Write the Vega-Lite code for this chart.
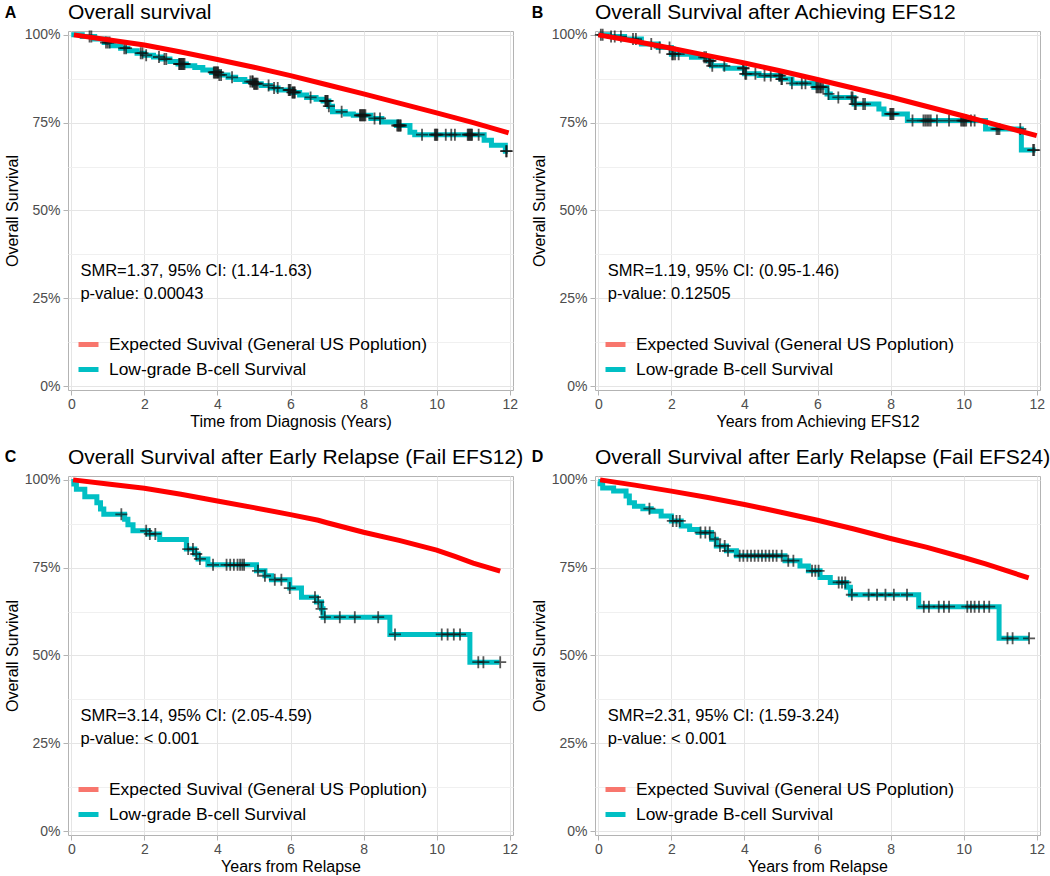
{
  "$schema": "https://vega.github.io/schema/vega-lite/v6.json",
  "padding": {"left": 3, "top": 1, "right": 0, "bottom": 0},
  "autosize": {"type": "pad"},
  "background": "white",
  "config": {
    "font": "Liberation Sans",
    "view": {"stroke": "#b3b3b3", "strokeWidth": 1},
    "axis": {
      "domain": false,
      "tickColor": "#b3b3b3",
      "tickSize": 5,
      "tickWidth": 1,
      "labelColor": "#4d4d4d",
      "labelFontSize": 14,
      "labelFont": "Liberation Sans",
      "labelFlush": false,
      "labelOverlap": false,
      "titleFontSize": 16,
      "titleFontWeight": "normal",
      "titleColor": "black",
      "titleFont": "Liberation Sans",
      "gridWidth": 1
    },
    "axisX": {"labelPadding": 2, "titlePadding": 2},
    "axisY": {"labelPadding": 3, "titlePadding": 4},
    "legend": {
      "orient": "bottom-left",
      "offset": 10,
      "padding": 0,
      "symbolType": "stroke",
      "symbolSize": 400,
      "symbolStrokeWidth": 5,
      "symbolOffset": -2,
      "labelFontSize": 17.4,
      "labelColor": "black",
      "labelFont": "Liberation Sans",
      "labelOffset": 8,
      "rowPadding": 2,
      "labelLimit": 500
    }
  },
  "datasets": {
    "notes": [
      {"panel": "A", "letter": "A", "title": "Overall survival", "line1": "SMR=1.37, 95% CI: (1.14-1.63)", "line2": "p-value: 0.00043"},
      {"panel": "B", "letter": "B", "title": "Overall Survival after Achieving EFS12", "line1": "SMR=1.19, 95% CI: (0.95-1.46)", "line2": "p-value: 0.12505"},
      {"panel": "C", "letter": "C", "title": "Overall Survival after Early Relapse (Fail EFS12)", "line1": "SMR=3.14, 95% CI: (2.05-4.59)", "line2": "p-value: < 0.001"},
      {"panel": "D", "letter": "D", "title": "Overall Survival after Early Relapse (Fail EFS24)", "line1": "SMR=2.31, 95% CI: (1.59-3.24)", "line2": "p-value: < 0.001"}
    ],
    "kmA": [
      {"t": 0, "s": 1.0}, {"t": 0.3, "s": 0.995}, {"t": 0.64, "s": 0.988}, {"t": 0.9, "s": 0.978}, {"t": 1.1, "s": 0.969},
      {"t": 1.35, "s": 0.962}, {"t": 1.55, "s": 0.955}, {"t": 1.8, "s": 0.948}, {"t": 2.0, "s": 0.942}, {"t": 2.25, "s": 0.937},
      {"t": 2.47, "s": 0.931}, {"t": 2.7, "s": 0.924}, {"t": 2.92, "s": 0.917}, {"t": 3.15, "s": 0.912}, {"t": 3.38, "s": 0.907},
      {"t": 3.6, "s": 0.9}, {"t": 3.84, "s": 0.893}, {"t": 4.05, "s": 0.886}, {"t": 4.29, "s": 0.879}, {"t": 4.5, "s": 0.873},
      {"t": 4.75, "s": 0.867}, {"t": 5.0, "s": 0.861}, {"t": 5.2, "s": 0.856}, {"t": 5.45, "s": 0.849}, {"t": 5.66, "s": 0.843},
      {"t": 6.03, "s": 0.836}, {"t": 6.25, "s": 0.829}, {"t": 6.44, "s": 0.822}, {"t": 6.7, "s": 0.817}, {"t": 6.89, "s": 0.812},
      {"t": 7.05, "s": 0.797}, {"t": 7.15, "s": 0.781}, {"t": 7.5, "s": 0.775}, {"t": 7.72, "s": 0.771}, {"t": 8.2, "s": 0.762},
      {"t": 8.5, "s": 0.752}, {"t": 8.9, "s": 0.742}, {"t": 9.27, "s": 0.723}, {"t": 9.4, "s": 0.716}, {"t": 11.3, "s": 0.7},
      {"t": 11.5, "s": 0.686}, {"t": 11.88, "s": 0.669}, {"t": 11.95, "s": 0.669}
    ],
    "cenA": [
      {"t": 0.5, "s": 0.995}, {"t": 0.55, "s": 0.995}, {"t": 0.95, "s": 0.978}, {"t": 1.0, "s": 0.978}, {"t": 1.05, "s": 0.978},
      {"t": 1.45, "s": 0.962}, {"t": 1.5, "s": 0.962}, {"t": 1.9, "s": 0.948}, {"t": 1.95, "s": 0.948}, {"t": 2.05, "s": 0.942},
      {"t": 2.4, "s": 0.937}, {"t": 2.55, "s": 0.931}, {"t": 2.6, "s": 0.931}, {"t": 2.95, "s": 0.917}, {"t": 2.97, "s": 0.917},
      {"t": 3.0, "s": 0.917}, {"t": 3.02, "s": 0.917}, {"t": 3.05, "s": 0.917}, {"t": 3.07, "s": 0.917}, {"t": 3.1, "s": 0.917},
      {"t": 3.9, "s": 0.893}, {"t": 3.92, "s": 0.893}, {"t": 3.95, "s": 0.893}, {"t": 3.97, "s": 0.893}, {"t": 4.0, "s": 0.893},
      {"t": 4.02, "s": 0.893}, {"t": 4.05, "s": 0.886}, {"t": 4.1, "s": 0.886}, {"t": 4.4, "s": 0.879}, {"t": 4.9, "s": 0.867},
      {"t": 4.95, "s": 0.867}, {"t": 4.97, "s": 0.867}, {"t": 5.0, "s": 0.861}, {"t": 5.02, "s": 0.861}, {"t": 5.05, "s": 0.861},
      {"t": 5.07, "s": 0.861}, {"t": 5.1, "s": 0.861}, {"t": 5.4, "s": 0.856}, {"t": 5.55, "s": 0.849}, {"t": 5.65, "s": 0.849},
      {"t": 5.95, "s": 0.843}, {"t": 5.97, "s": 0.843}, {"t": 6.0, "s": 0.843}, {"t": 6.05, "s": 0.836}, {"t": 6.07, "s": 0.836},
      {"t": 6.1, "s": 0.836}, {"t": 6.12, "s": 0.836}, {"t": 6.55, "s": 0.822}, {"t": 6.95, "s": 0.812}, {"t": 6.97, "s": 0.812},
      {"t": 7.0, "s": 0.812}, {"t": 7.02, "s": 0.812}, {"t": 7.05, "s": 0.797}, {"t": 7.4, "s": 0.781}, {"t": 7.9, "s": 0.771},
      {"t": 7.92, "s": 0.771}, {"t": 7.95, "s": 0.771}, {"t": 7.97, "s": 0.771}, {"t": 8.0, "s": 0.771}, {"t": 8.02, "s": 0.771},
      {"t": 8.05, "s": 0.771}, {"t": 8.3, "s": 0.762}, {"t": 8.45, "s": 0.762}, {"t": 8.92, "s": 0.742}, {"t": 8.95, "s": 0.742},
      {"t": 8.97, "s": 0.742}, {"t": 9.0, "s": 0.742}, {"t": 9.02, "s": 0.742}, {"t": 9.6, "s": 0.716}, {"t": 9.95, "s": 0.716},
      {"t": 9.97, "s": 0.716}, {"t": 10.0, "s": 0.716}, {"t": 10.02, "s": 0.716}, {"t": 10.25, "s": 0.716}, {"t": 10.4, "s": 0.716},
      {"t": 10.5, "s": 0.716}, {"t": 10.85, "s": 0.716}, {"t": 10.87, "s": 0.716}, {"t": 10.9, "s": 0.716}, {"t": 10.92, "s": 0.716},
      {"t": 10.95, "s": 0.716}, {"t": 10.97, "s": 0.716}, {"t": 11.15, "s": 0.716}, {"t": 11.9, "s": 0.669}, {"t": 11.92, "s": 0.669}
    ],
    "expA": [
      {"t": 0.07, "s": 1.0}, {"t": 1, "s": 0.986}, {"t": 2, "s": 0.971}, {"t": 3, "s": 0.951}, {"t": 4, "s": 0.93},
      {"t": 5, "s": 0.908}, {"t": 6, "s": 0.884}, {"t": 7, "s": 0.858}, {"t": 8, "s": 0.832}, {"t": 9, "s": 0.805},
      {"t": 10, "s": 0.778}, {"t": 11, "s": 0.75}, {"t": 11.97, "s": 0.721}
    ],
    "kmB": [
      {"t": 0, "s": 1.0}, {"t": 0.3, "s": 0.995}, {"t": 0.72, "s": 0.988}, {"t": 1.18, "s": 0.974}, {"t": 1.64, "s": 0.964},
      {"t": 2.0, "s": 0.945}, {"t": 2.55, "s": 0.936}, {"t": 3.0, "s": 0.926}, {"t": 3.1, "s": 0.912}, {"t": 3.47, "s": 0.905},
      {"t": 4.0, "s": 0.889}, {"t": 4.4, "s": 0.884}, {"t": 5.0, "s": 0.874}, {"t": 5.3, "s": 0.862}, {"t": 5.9, "s": 0.851},
      {"t": 6.26, "s": 0.832}, {"t": 6.35, "s": 0.822}, {"t": 7.0, "s": 0.803}, {"t": 7.68, "s": 0.789}, {"t": 7.82, "s": 0.775},
      {"t": 8.46, "s": 0.756}, {"t": 10.6, "s": 0.732}, {"t": 11.58, "s": 0.672}, {"t": 11.97, "s": 0.672}
    ],
    "cenB": [
      {"t": 0.07, "s": 1.0}, {"t": 0.12, "s": 1.0}, {"t": 0.35, "s": 0.995}, {"t": 0.45, "s": 0.995}, {"t": 0.62, "s": 0.995},
      {"t": 0.95, "s": 0.988}, {"t": 1.03, "s": 0.988}, {"t": 1.45, "s": 0.974}, {"t": 1.68, "s": 0.964}, {"t": 1.95, "s": 0.964},
      {"t": 2.02, "s": 0.945}, {"t": 2.05, "s": 0.945}, {"t": 2.1, "s": 0.945}, {"t": 2.2, "s": 0.945}, {"t": 2.9, "s": 0.936},
      {"t": 2.95, "s": 0.936}, {"t": 3.02, "s": 0.926}, {"t": 3.05, "s": 0.926}, {"t": 3.07, "s": 0.926}, {"t": 3.12, "s": 0.912},
      {"t": 3.45, "s": 0.912}, {"t": 3.96, "s": 0.905}, {"t": 3.98, "s": 0.905}, {"t": 4.02, "s": 0.889}, {"t": 4.05, "s": 0.889},
      {"t": 4.3, "s": 0.889}, {"t": 4.55, "s": 0.884}, {"t": 4.72, "s": 0.884}, {"t": 4.95, "s": 0.884}, {"t": 4.98, "s": 0.884},
      {"t": 5.01, "s": 0.874}, {"t": 5.03, "s": 0.874}, {"t": 5.3, "s": 0.862}, {"t": 5.57, "s": 0.862}, {"t": 5.67, "s": 0.862},
      {"t": 5.97, "s": 0.851}, {"t": 6.0, "s": 0.851}, {"t": 6.03, "s": 0.851}, {"t": 6.07, "s": 0.851}, {"t": 6.1, "s": 0.851},
      {"t": 6.15, "s": 0.851}, {"t": 6.3, "s": 0.832}, {"t": 6.57, "s": 0.822}, {"t": 6.93, "s": 0.822}, {"t": 6.96, "s": 0.822},
      {"t": 7.02, "s": 0.803}, {"t": 7.05, "s": 0.803}, {"t": 7.25, "s": 0.803}, {"t": 7.3, "s": 0.803}, {"t": 7.99, "s": 0.775},
      {"t": 8.02, "s": 0.775}, {"t": 8.05, "s": 0.775}, {"t": 8.08, "s": 0.775}, {"t": 8.6, "s": 0.756}, {"t": 8.9, "s": 0.756},
      {"t": 8.95, "s": 0.756}, {"t": 9.0, "s": 0.756}, {"t": 9.05, "s": 0.756}, {"t": 9.1, "s": 0.756}, {"t": 9.27, "s": 0.756},
      {"t": 9.6, "s": 0.756}, {"t": 9.93, "s": 0.756}, {"t": 9.97, "s": 0.756}, {"t": 10.0, "s": 0.756}, {"t": 10.03, "s": 0.756},
      {"t": 10.07, "s": 0.756}, {"t": 10.2, "s": 0.756}, {"t": 10.3, "s": 0.756}, {"t": 10.9, "s": 0.732}, {"t": 10.94, "s": 0.732},
      {"t": 10.98, "s": 0.732}, {"t": 11.55, "s": 0.732}, {"t": 11.9, "s": 0.672}, {"t": 11.93, "s": 0.672}
    ],
    "expB": [
      {"t": 0, "s": 1.0}, {"t": 1, "s": 0.982}, {"t": 2, "s": 0.962}, {"t": 3, "s": 0.941}, {"t": 4, "s": 0.92},
      {"t": 5, "s": 0.897}, {"t": 6, "s": 0.873}, {"t": 7, "s": 0.848}, {"t": 8, "s": 0.823}, {"t": 9, "s": 0.796},
      {"t": 10, "s": 0.769}, {"t": 11, "s": 0.741}, {"t": 12, "s": 0.713}
    ],
    "kmC": [
      {"t": 0, "s": 0.995}, {"t": 0.07, "s": 0.988}, {"t": 0.14, "s": 0.973}, {"t": 0.37, "s": 0.952}, {"t": 0.7, "s": 0.935},
      {"t": 0.8, "s": 0.917}, {"t": 0.89, "s": 0.902}, {"t": 1.46, "s": 0.888}, {"t": 1.55, "s": 0.872}, {"t": 1.69, "s": 0.855},
      {"t": 2.1, "s": 0.846}, {"t": 2.42, "s": 0.83}, {"t": 3.15, "s": 0.803}, {"t": 3.38, "s": 0.789}, {"t": 3.47, "s": 0.775},
      {"t": 3.74, "s": 0.758}, {"t": 5.07, "s": 0.741}, {"t": 5.3, "s": 0.727}, {"t": 5.48, "s": 0.716}, {"t": 5.98, "s": 0.692},
      {"t": 6.3, "s": 0.666}, {"t": 6.71, "s": 0.652}, {"t": 6.85, "s": 0.633}, {"t": 6.89, "s": 0.609}, {"t": 8.72, "s": 0.56},
      {"t": 10.91, "s": 0.481}, {"t": 11.72, "s": 0.481}
    ],
    "cenC": [
      {"t": 1.37, "s": 0.902}, {"t": 2.05, "s": 0.855}, {"t": 2.15, "s": 0.846}, {"t": 2.3, "s": 0.846}, {"t": 3.2, "s": 0.803},
      {"t": 3.33, "s": 0.803}, {"t": 3.42, "s": 0.789}, {"t": 3.52, "s": 0.775}, {"t": 3.88, "s": 0.758}, {"t": 4.25, "s": 0.758},
      {"t": 4.35, "s": 0.758}, {"t": 4.45, "s": 0.758}, {"t": 4.55, "s": 0.758}, {"t": 4.62, "s": 0.758}, {"t": 4.68, "s": 0.758},
      {"t": 4.73, "s": 0.758}, {"t": 5.11, "s": 0.741}, {"t": 5.3, "s": 0.727}, {"t": 5.57, "s": 0.716}, {"t": 5.75, "s": 0.716},
      {"t": 5.98, "s": 0.692}, {"t": 6.67, "s": 0.666}, {"t": 6.76, "s": 0.652}, {"t": 6.85, "s": 0.633}, {"t": 6.94, "s": 0.609},
      {"t": 7.35, "s": 0.609}, {"t": 7.76, "s": 0.609}, {"t": 8.4, "s": 0.609}, {"t": 8.86, "s": 0.56}, {"t": 10.14, "s": 0.56},
      {"t": 10.3, "s": 0.56}, {"t": 10.47, "s": 0.56}, {"t": 10.64, "s": 0.56}, {"t": 11.14, "s": 0.481}, {"t": 11.28, "s": 0.481},
      {"t": 11.74, "s": 0.481}
    ],
    "expC": [
      {"t": 0.05, "s": 1.0}, {"t": 1, "s": 0.988}, {"t": 2, "s": 0.976}, {"t": 3, "s": 0.959}, {"t": 4, "s": 0.94},
      {"t": 5, "s": 0.921}, {"t": 6, "s": 0.901}, {"t": 6.76, "s": 0.885}, {"t": 7, "s": 0.878}, {"t": 8, "s": 0.851},
      {"t": 9, "s": 0.827}, {"t": 10, "s": 0.8}, {"t": 10.5, "s": 0.782}, {"t": 11, "s": 0.763}, {"t": 11.74, "s": 0.74}
    ],
    "kmD": [
      {"t": 0, "s": 0.995}, {"t": 0.05, "s": 0.989}, {"t": 0.12, "s": 0.977}, {"t": 0.42, "s": 0.968}, {"t": 0.76, "s": 0.954},
      {"t": 0.85, "s": 0.935}, {"t": 0.99, "s": 0.925}, {"t": 1.22, "s": 0.918}, {"t": 1.45, "s": 0.911}, {"t": 1.72, "s": 0.897},
      {"t": 2.0, "s": 0.883}, {"t": 2.27, "s": 0.869}, {"t": 2.5, "s": 0.859}, {"t": 2.73, "s": 0.85}, {"t": 3.1, "s": 0.831},
      {"t": 3.23, "s": 0.812}, {"t": 3.51, "s": 0.798}, {"t": 3.78, "s": 0.784}, {"t": 5.11, "s": 0.77}, {"t": 5.52, "s": 0.755},
      {"t": 5.75, "s": 0.741}, {"t": 6.07, "s": 0.722}, {"t": 6.35, "s": 0.708}, {"t": 6.8, "s": 0.694}, {"t": 6.9, "s": 0.673},
      {"t": 8.77, "s": 0.639}, {"t": 10.97, "s": 0.549}, {"t": 11.79, "s": 0.549}
    ],
    "cenD": [
      {"t": 1.4, "s": 0.918}, {"t": 2.04, "s": 0.883}, {"t": 2.14, "s": 0.883}, {"t": 2.23, "s": 0.883}, {"t": 2.8, "s": 0.85},
      {"t": 2.93, "s": 0.85}, {"t": 3.05, "s": 0.85}, {"t": 3.2, "s": 0.831}, {"t": 3.33, "s": 0.812}, {"t": 3.46, "s": 0.812},
      {"t": 3.55, "s": 0.798}, {"t": 3.87, "s": 0.784}, {"t": 3.97, "s": 0.784}, {"t": 4.08, "s": 0.784}, {"t": 4.18, "s": 0.784},
      {"t": 4.28, "s": 0.784}, {"t": 4.38, "s": 0.784}, {"t": 4.48, "s": 0.784}, {"t": 4.58, "s": 0.784}, {"t": 4.68, "s": 0.784},
      {"t": 4.78, "s": 0.784}, {"t": 4.88, "s": 0.784}, {"t": 5.02, "s": 0.784}, {"t": 5.2, "s": 0.77}, {"t": 5.34, "s": 0.77},
      {"t": 5.85, "s": 0.741}, {"t": 5.94, "s": 0.741}, {"t": 6.03, "s": 0.741}, {"t": 6.58, "s": 0.708}, {"t": 6.67, "s": 0.708},
      {"t": 6.76, "s": 0.708}, {"t": 6.94, "s": 0.673}, {"t": 7.4, "s": 0.673}, {"t": 7.63, "s": 0.673}, {"t": 7.86, "s": 0.673},
      {"t": 8.09, "s": 0.673}, {"t": 8.45, "s": 0.673}, {"t": 8.91, "s": 0.639}, {"t": 9.05, "s": 0.639}, {"t": 9.32, "s": 0.639},
      {"t": 9.46, "s": 0.639}, {"t": 9.6, "s": 0.639}, {"t": 10.1, "s": 0.639}, {"t": 10.2, "s": 0.639}, {"t": 10.3, "s": 0.639},
      {"t": 10.42, "s": 0.639}, {"t": 10.56, "s": 0.639}, {"t": 10.7, "s": 0.639}, {"t": 11.2, "s": 0.549}, {"t": 11.34, "s": 0.549},
      {"t": 11.79, "s": 0.549}
    ],
    "expD": [
      {"t": 0.05, "s": 1.0}, {"t": 1, "s": 0.985}, {"t": 2, "s": 0.968}, {"t": 3, "s": 0.95}, {"t": 4, "s": 0.93},
      {"t": 5, "s": 0.908}, {"t": 6, "s": 0.885}, {"t": 7, "s": 0.86}, {"t": 8, "s": 0.833}, {"t": 9, "s": 0.808},
      {"t": 10, "s": 0.779}, {"t": 10.6, "s": 0.761}, {"t": 11.15, "s": 0.742}, {"t": 11.78, "s": 0.721}
    ]
  },
  "columns": 2,
  "bounds": "flush",
  "spacing": {"row": 86, "column": 82},
  "resolve": {"scale": {"color": "independent"}, "legend": {"color": "independent"}},
  "concat": [
    {
      "width": 445, "height": 359,
      "layer": [
        {
          "encoding": {
            "x": {"field": "t", "type": "quantitative", "scale": {"domain": [-0.09, 12.09], "nice": false, "zero": false},
              "axis": {"title": "Time from Diagnosis (Years)", "values": [0,1,2,3,4,5,6,7,8,9,10,11,12],
                "labelExpr": "datum.value % 2 == 0 ? datum.label : ''",
                "gridColor": {"condition": {"test": "datum.value % 2 == 1", "value": "#f0f0f0"}, "value": "#e5e5e5"},
                "tickOpacity": {"condition": {"test": "datum.value % 2 == 1", "value": 0}, "value": 1}}},
            "y": {"field": "s", "type": "quantitative", "scale": {"domain": [-0.011, 1.011], "nice": false, "zero": false},
              "axis": {"title": "Overall Survival", "values": [0,0.125,0.25,0.375,0.5,0.625,0.75,0.875,1], "format": ".0%",
                "labelExpr": "(datum.value*4) % 1 == 0 ? datum.label : ''",
                "gridColor": {"condition": {"test": "(datum.value*4) % 1 != 0", "value": "#f0f0f0"}, "value": "#e5e5e5"},
                "tickOpacity": {"condition": {"test": "(datum.value*4) % 1 != 0", "value": 0}, "value": 1}}}
          },
          "layer": [
            {"data": {"name": "kmA"}, "mark": {"type": "line", "interpolate": "step-after", "strokeWidth": 5},
              "encoding": {"color": {"datum": "Low-grade B-cell Survival", "type": "nominal",
                "scale": {"domain": ["Expected Suvival (General US Poplution)", "Low-grade B-cell Survival"], "range": ["#F8766D", "#00BFC4"]},
                "legend": {"title": null}}}},
            {"data": {"name": "cenA"}, "mark": {"type": "point", "shape": "M-1,0H1M0,-1V1", "size": 144, "filled": false, "color": "#111111", "strokeWidth": 1.8, "opacity": 0.7}},
            {"data": {"name": "expA"}, "mark": {"type": "line", "color": "#ff0000", "strokeWidth": 5}, "encoding": {}}
          ]
        },
        {"data": {"name": "notes"}, "transform": [{"filter": "datum.panel == 'A'"}],
          "mark": {"type": "text", "align": "left", "baseline": "alphabetic", "fontSize": 16.5, "color": "black"},
          "encoding": {"x": {"datum": 0.25}, "y": {"datum": 0.314}, "text": {"field": "line1"}}},
        {"data": {"name": "notes"}, "transform": [{"filter": "datum.panel == 'A'"}],
          "mark": {"type": "text", "align": "left", "baseline": "alphabetic", "fontSize": 16.5, "color": "black"},
          "encoding": {"x": {"datum": 0.25}, "y": {"datum": 0.247}, "text": {"field": "line2"}}},
        {"data": {"name": "notes"}, "transform": [{"filter": "datum.panel == 'A'"}],
          "mark": {"type": "text", "align": "left", "baseline": "alphabetic", "fontSize": 16, "fontWeight": "bold", "color": "black"},
          "encoding": {"x": {"datum": -1.82}, "y": {"datum": 1.049}, "text": {"field": "letter"}}},
        {"data": {"name": "notes"}, "transform": [{"filter": "datum.panel == 'A'"}],
          "mark": {"type": "text", "align": "left", "baseline": "alphabetic", "fontSize": 21, "color": "black"},
          "encoding": {"x": {"datum": -0.09}, "y": {"datum": 1.0443}, "text": {"field": "title"}}}
      ]
    },
    {
      "width": 445, "height": 359,
      "layer": [
        {
          "encoding": {
            "x": {"field": "t", "type": "quantitative", "scale": {"domain": [-0.09, 12.09], "nice": false, "zero": false},
              "axis": {"title": "Years from Achieving EFS12", "values": [0,1,2,3,4,5,6,7,8,9,10,11,12],
                "labelExpr": "datum.value % 2 == 0 ? datum.label : ''",
                "gridColor": {"condition": {"test": "datum.value % 2 == 1", "value": "#f0f0f0"}, "value": "#e5e5e5"},
                "tickOpacity": {"condition": {"test": "datum.value % 2 == 1", "value": 0}, "value": 1}}},
            "y": {"field": "s", "type": "quantitative", "scale": {"domain": [-0.011, 1.011], "nice": false, "zero": false},
              "axis": {"title": "Overall Survival", "values": [0,0.125,0.25,0.375,0.5,0.625,0.75,0.875,1], "format": ".0%",
                "labelExpr": "(datum.value*4) % 1 == 0 ? datum.label : ''",
                "gridColor": {"condition": {"test": "(datum.value*4) % 1 != 0", "value": "#f0f0f0"}, "value": "#e5e5e5"},
                "tickOpacity": {"condition": {"test": "(datum.value*4) % 1 != 0", "value": 0}, "value": 1}}}
          },
          "layer": [
            {"data": {"name": "kmB"}, "mark": {"type": "line", "interpolate": "step-after", "strokeWidth": 5},
              "encoding": {"color": {"datum": "Low-grade B-cell Survival", "type": "nominal",
                "scale": {"domain": ["Expected Suvival (General US Poplution)", "Low-grade B-cell Survival"], "range": ["#F8766D", "#00BFC4"]},
                "legend": {"title": null}}}},
            {"data": {"name": "cenB"}, "mark": {"type": "point", "shape": "M-1,0H1M0,-1V1", "size": 144, "filled": false, "color": "#111111", "strokeWidth": 1.8, "opacity": 0.7}},
            {"data": {"name": "expB"}, "mark": {"type": "line", "color": "#ff0000", "strokeWidth": 5}, "encoding": {}}
          ]
        },
        {"data": {"name": "notes"}, "transform": [{"filter": "datum.panel == 'B'"}],
          "mark": {"type": "text", "align": "left", "baseline": "alphabetic", "fontSize": 16.5, "color": "black"},
          "encoding": {"x": {"datum": 0.26}, "y": {"datum": 0.314}, "text": {"field": "line1"}}},
        {"data": {"name": "notes"}, "transform": [{"filter": "datum.panel == 'B'"}],
          "mark": {"type": "text", "align": "left", "baseline": "alphabetic", "fontSize": 16.5, "color": "black"},
          "encoding": {"x": {"datum": 0.26}, "y": {"datum": 0.247}, "text": {"field": "line2"}}},
        {"data": {"name": "notes"}, "transform": [{"filter": "datum.panel == 'B'"}],
          "mark": {"type": "text", "align": "left", "baseline": "alphabetic", "fontSize": 16, "fontWeight": "bold", "color": "black"},
          "encoding": {"x": {"datum": -1.82}, "y": {"datum": 1.049}, "text": {"field": "letter"}}},
        {"data": {"name": "notes"}, "transform": [{"filter": "datum.panel == 'B'"}],
          "mark": {"type": "text", "align": "left", "baseline": "alphabetic", "fontSize": 21, "color": "black"},
          "encoding": {"x": {"datum": -0.09}, "y": {"datum": 1.0443}, "text": {"field": "title"}}}
      ]
    },
    {
      "width": 445, "height": 359,
      "layer": [
        {
          "encoding": {
            "x": {"field": "t", "type": "quantitative", "scale": {"domain": [-0.09, 12.09], "nice": false, "zero": false},
              "axis": {"title": "Years from Relapse", "values": [0,1,2,3,4,5,6,7,8,9,10,11,12],
                "labelExpr": "datum.value % 2 == 0 ? datum.label : ''",
                "gridColor": {"condition": {"test": "datum.value % 2 == 1", "value": "#f0f0f0"}, "value": "#e5e5e5"},
                "tickOpacity": {"condition": {"test": "datum.value % 2 == 1", "value": 0}, "value": 1}}},
            "y": {"field": "s", "type": "quantitative", "scale": {"domain": [-0.011, 1.011], "nice": false, "zero": false},
              "axis": {"title": "Overall Survival", "values": [0,0.125,0.25,0.375,0.5,0.625,0.75,0.875,1], "format": ".0%",
                "labelExpr": "(datum.value*4) % 1 == 0 ? datum.label : ''",
                "gridColor": {"condition": {"test": "(datum.value*4) % 1 != 0", "value": "#f0f0f0"}, "value": "#e5e5e5"},
                "tickOpacity": {"condition": {"test": "(datum.value*4) % 1 != 0", "value": 0}, "value": 1}}}
          },
          "layer": [
            {"data": {"name": "kmC"}, "mark": {"type": "line", "interpolate": "step-after", "strokeWidth": 5},
              "encoding": {"color": {"datum": "Low-grade B-cell Survival", "type": "nominal",
                "scale": {"domain": ["Expected Suvival (General US Poplution)", "Low-grade B-cell Survival"], "range": ["#F8766D", "#00BFC4"]},
                "legend": {"title": null}}}},
            {"data": {"name": "cenC"}, "mark": {"type": "point", "shape": "M-1,0H1M0,-1V1", "size": 144, "filled": false, "color": "#111111", "strokeWidth": 1.8, "opacity": 0.7}},
            {"data": {"name": "expC"}, "mark": {"type": "line", "color": "#ff0000", "strokeWidth": 5}, "encoding": {}}
          ]
        },
        {"data": {"name": "notes"}, "transform": [{"filter": "datum.panel == 'C'"}],
          "mark": {"type": "text", "align": "left", "baseline": "alphabetic", "fontSize": 16.5, "color": "black"},
          "encoding": {"x": {"datum": 0.25}, "y": {"datum": 0.314}, "text": {"field": "line1"}}},
        {"data": {"name": "notes"}, "transform": [{"filter": "datum.panel == 'C'"}],
          "mark": {"type": "text", "align": "left", "baseline": "alphabetic", "fontSize": 16.5, "color": "black"},
          "encoding": {"x": {"datum": 0.25}, "y": {"datum": 0.247}, "text": {"field": "line2"}}},
        {"data": {"name": "notes"}, "transform": [{"filter": "datum.panel == 'C'"}],
          "mark": {"type": "text", "align": "left", "baseline": "alphabetic", "fontSize": 16, "fontWeight": "bold", "color": "black"},
          "encoding": {"x": {"datum": -1.82}, "y": {"datum": 1.05}, "text": {"field": "letter"}}},
        {"data": {"name": "notes"}, "transform": [{"filter": "datum.panel == 'C'"}],
          "mark": {"type": "text", "align": "left", "baseline": "alphabetic", "fontSize": 21, "color": "black"},
          "encoding": {"x": {"datum": -0.09}, "y": {"datum": 1.0443}, "text": {"field": "title"}}}
      ]
    },
    {
      "width": 445, "height": 359,
      "layer": [
        {
          "encoding": {
            "x": {"field": "t", "type": "quantitative", "scale": {"domain": [-0.09, 12.09], "nice": false, "zero": false},
              "axis": {"title": "Years from Relapse", "values": [0,1,2,3,4,5,6,7,8,9,10,11,12],
                "labelExpr": "datum.value % 2 == 0 ? datum.label : ''",
                "gridColor": {"condition": {"test": "datum.value % 2 == 1", "value": "#f0f0f0"}, "value": "#e5e5e5"},
                "tickOpacity": {"condition": {"test": "datum.value % 2 == 1", "value": 0}, "value": 1}}},
            "y": {"field": "s", "type": "quantitative", "scale": {"domain": [-0.011, 1.011], "nice": false, "zero": false},
              "axis": {"title": "Overall Survival", "values": [0,0.125,0.25,0.375,0.5,0.625,0.75,0.875,1], "format": ".0%",
                "labelExpr": "(datum.value*4) % 1 == 0 ? datum.label : ''",
                "gridColor": {"condition": {"test": "(datum.value*4) % 1 != 0", "value": "#f0f0f0"}, "value": "#e5e5e5"},
                "tickOpacity": {"condition": {"test": "(datum.value*4) % 1 != 0", "value": 0}, "value": 1}}}
          },
          "layer": [
            {"data": {"name": "kmD"}, "mark": {"type": "line", "interpolate": "step-after", "strokeWidth": 5},
              "encoding": {"color": {"datum": "Low-grade B-cell Survival", "type": "nominal",
                "scale": {"domain": ["Expected Suvival (General US Poplution)", "Low-grade B-cell Survival"], "range": ["#F8766D", "#00BFC4"]},
                "legend": {"title": null}}}},
            {"data": {"name": "cenD"}, "mark": {"type": "point", "shape": "M-1,0H1M0,-1V1", "size": 144, "filled": false, "color": "#111111", "strokeWidth": 1.8, "opacity": 0.7}},
            {"data": {"name": "expD"}, "mark": {"type": "line", "color": "#ff0000", "strokeWidth": 5}, "encoding": {}}
          ]
        },
        {"data": {"name": "notes"}, "transform": [{"filter": "datum.panel == 'D'"}],
          "mark": {"type": "text", "align": "left", "baseline": "alphabetic", "fontSize": 16.5, "color": "black"},
          "encoding": {"x": {"datum": 0.26}, "y": {"datum": 0.314}, "text": {"field": "line1"}}},
        {"data": {"name": "notes"}, "transform": [{"filter": "datum.panel == 'D'"}],
          "mark": {"type": "text", "align": "left", "baseline": "alphabetic", "fontSize": 16.5, "color": "black"},
          "encoding": {"x": {"datum": 0.26}, "y": {"datum": 0.247}, "text": {"field": "line2"}}},
        {"data": {"name": "notes"}, "transform": [{"filter": "datum.panel == 'D'"}],
          "mark": {"type": "text", "align": "left", "baseline": "alphabetic", "fontSize": 16, "fontWeight": "bold", "color": "black"},
          "encoding": {"x": {"datum": -1.82}, "y": {"datum": 1.05}, "text": {"field": "letter"}}},
        {"data": {"name": "notes"}, "transform": [{"filter": "datum.panel == 'D'"}],
          "mark": {"type": "text", "align": "left", "baseline": "alphabetic", "fontSize": 21, "color": "black"},
          "encoding": {"x": {"datum": -0.09}, "y": {"datum": 1.0443}, "text": {"field": "title"}}}
      ]
    }
  ]
}
